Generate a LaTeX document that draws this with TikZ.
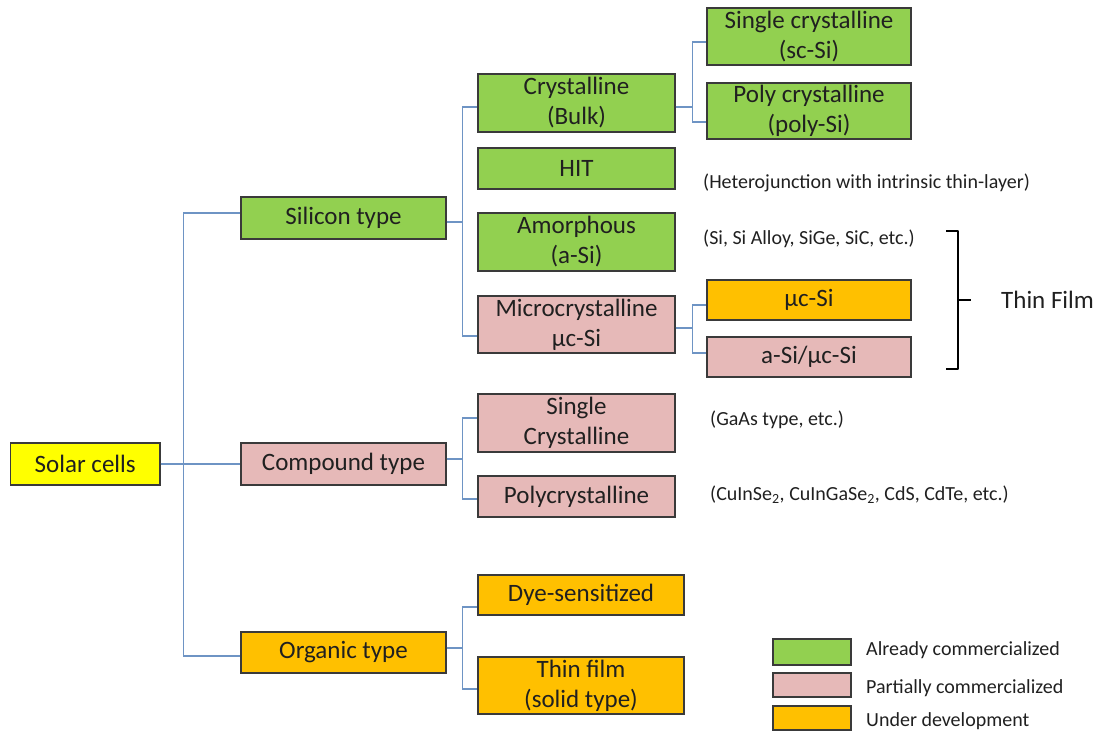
\documentclass[tikz,border=0pt]{standalone}
\usepackage{fontspec}
\setmainfont{Carlito}
\definecolor{cgreen}{HTML}{92D050}
\definecolor{cpink}{HTML}{E6B9B8}
\definecolor{corange}{HTML}{FFC000}
\definecolor{cyellow}{HTML}{FFFF00}
\definecolor{cline}{HTML}{6E94C4}
\definecolor{cborder}{HTML}{3A3A3A}
\definecolor{ctext}{HTML}{202020}
\begin{document}
\begin{tikzpicture}[x=1pt,y=-1pt,
  box/.style={draw=cborder,line width=1.3pt,rectangle,inner sep=0pt,align=center,
    text=ctext,font=\fontsize{25}{30}\selectfont},
  gbox/.style={box,fill=cgreen},
  pbox/.style={box,fill=cpink},
  obox/.style={box,fill=corange},
  ybox/.style={box,fill=cyellow},
  note/.style={anchor=west,inner sep=0pt,text=ctext,font=\fontsize{20}{24}\selectfont},
  conn/.style={draw=cline,line width=1.2pt},
  legbox/.style={draw=cborder,line width=1.3pt,rectangle,inner sep=0pt,minimum width=78pt}
]
\useasboundingbox (0,0) rectangle (1102,733);
% level 0
\node[ybox,minimum width=149.5pt,minimum height=42pt] (solar) at (85.25,464) {Solar cells};
% level 1
\node[gbox,minimum width=205pt,minimum height=42pt] (silicon) at (343.5,218) {Silicon type};
\node[pbox,minimum width=205pt,minimum height=42pt] (compound) at (343.5,464) {Compound type};
\node[obox,minimum width=205pt,minimum height=41pt] (organic) at (343.5,652.5) {Organic type};
% level 2
\node[gbox,minimum width=197pt,minimum height=58pt] (cryst) at (576.5,103) {Crystalline\\(Bulk)};
\node[gbox,minimum width=197pt,minimum height=41pt] (hit) at (576.5,168.5) {HIT};
\node[gbox,minimum width=197pt,minimum height=58pt] (amorph) at (576.5,242) {Amorphous\\(a-Si)};
\node[pbox,minimum width=197pt,minimum height=57pt] (micro) at (576.5,324.5) {Microcrystalline\\µc-Si};
\node[pbox,minimum width=197pt,minimum height=58pt] (single) at (576.5,423) {Single\\Crystalline};
\node[pbox,minimum width=197pt,minimum height=41pt] (poly) at (576.5,496.5) {Polycrystalline};
\node[obox,minimum width=206pt,minimum height=40pt] (dye) at (581,595) {Dye-sensitized};
\node[obox,minimum width=206pt,minimum height=57pt] (thinf) at (581,685.5) {Thin film\\(solid type)};
% level 3
\node[gbox,minimum width=204pt,minimum height=57pt] (sc) at (809,36.5) {Single crystalline\\(sc-Si)};
\node[gbox,minimum width=204pt,minimum height=56pt] (pc) at (809,111) {Poly crystalline\\(poly-Si)};
\node[obox,minimum width=204pt,minimum height=40pt] (muc) at (809,300) {µc-Si};
\node[pbox,minimum width=204pt,minimum height=40pt] (amuc) at (809,357) {a-Si/µc-Si};
% connectors
\draw[conn] (solar.east) -- (compound.west);
\draw[conn] (solar.east) -- ++(23,0) |- ([yshift=5pt]silicon.west);
\draw[conn] (solar.east) -- ++(23,0) |- ([yshift=-3.5pt]organic.west);
\draw[conn] ([yshift=-4pt]silicon.east) -- ++(16,0) |- ([yshift=-4pt]cryst.west);
\draw[conn] ([yshift=-4pt]silicon.east) -- ++(16,0) |- ([yshift=-11.5pt]micro.west);
\draw[conn] ([yshift=5pt]compound.east) -- ++(16,0) |- ([yshift=5pt]single.west);
\draw[conn] ([yshift=5pt]compound.east) -- ++(16,0) |- ([yshift=-2.5pt]poly.west);
\draw[conn] ([yshift=4.5pt]organic.east) -- ++(16,0) |- ([yshift=-12pt]dye.west);
\draw[conn] ([yshift=4.5pt]organic.east) -- ++(16,0) |- ([yshift=-3.5pt]thinf.west);
\draw[conn] ([yshift=-4pt]cryst.east) -- ++(17,0) |- ([yshift=-5.5pt]sc.west);
\draw[conn] ([yshift=-4pt]cryst.east) -- ++(17,0) |- ([yshift=-11pt]pc.west);
\draw[conn] ([yshift=-3.5pt]micro.east) -- ++(17,0) |- ([yshift=-5pt]muc.west);
\draw[conn] ([yshift=-3.5pt]micro.east) -- ++(17,0) |- ([yshift=4pt]amuc.west);
% notes
\node[note] (nhit) at (703,183) {(Heterojunction with intrinsic thin-layer)};
\node[note] (nam) at (703,239) {(Si, Si Alloy, SiGe, SiC, etc.)};
\node[note] (ngaas) at (710,420) {(GaAs type, etc.)};
\node[note] (ncu) at (710,495) {(CuInSe\textsubscript{2}, CuInGaSe\textsubscript{2}, CdS, CdTe, etc.)};
% bracket
\coordinate (btop) at (946,231);
\coordinate (bbot) at (946,369);
\coordinate (btip) at (971,300);
\draw[line width=2.6pt,line join=round] (btop) -- (958,231) -- (958,369) -- (bbot);
\draw[line width=2.6pt] (958,300) -- (btip);
\node[anchor=west,inner sep=0pt,text=ctext,font=\fontsize{25}{30}\selectfont] (thinfilm) at (1001,300) {Thin Film};
% legend
\node[legbox,fill=cgreen,minimum height=26pt] (lg) at (812,652) {};
\node[legbox,fill=cpink,minimum height=24pt] (lp) at (812,685) {};
\node[legbox,fill=corange,minimum height=24pt] (lo) at (812,718) {};
\node[note] (tg) at (866,650) {Already commercialized};
\node[note] (tp) at (866,688) {Partially commercialized};
\node[note] (to) at (866,721) {Under development};
\end{tikzpicture}
\end{document}
